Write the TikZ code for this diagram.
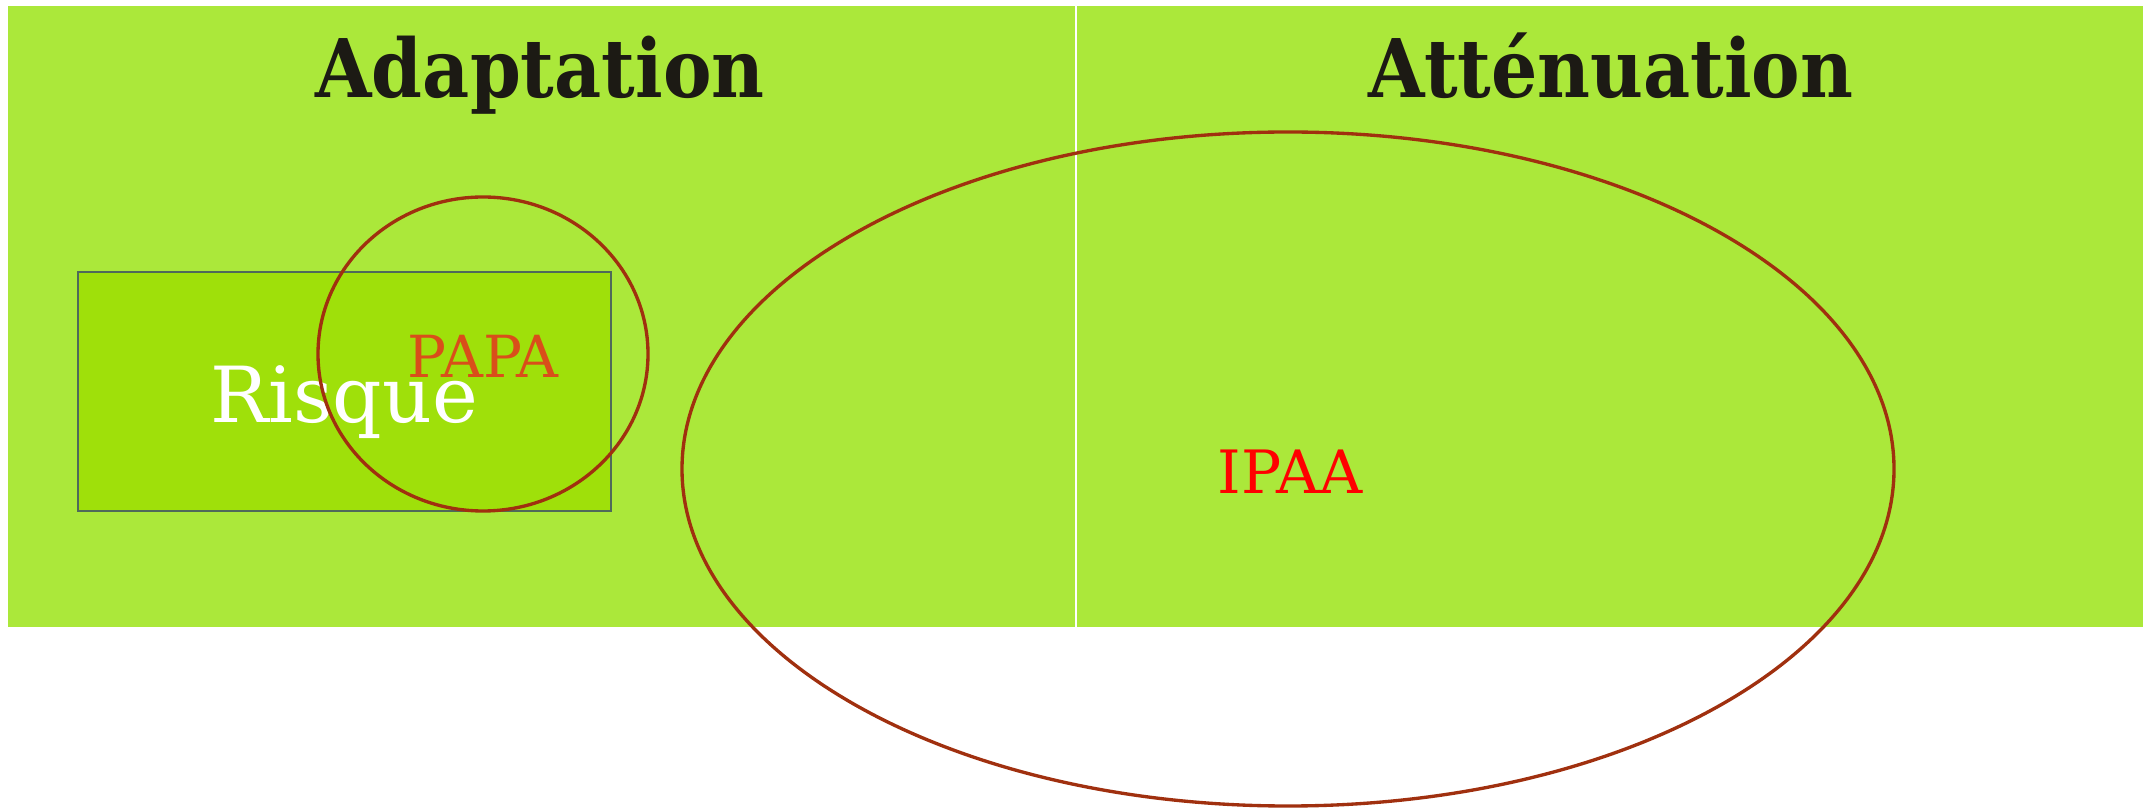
\documentclass[tikz,border=0pt]{standalone}
\usepackage{fontspec}
\setmainfont{DejaVu Serif}
\newfontfamily\headfont[FakeStretch=0.9]{DejaVu Serif}
\definecolor{panelgreen}{HTML}{ABE83A}
\definecolor{riskgreen}{HTML}{9FE00A}
\definecolor{riskedge}{HTML}{4F6A5A}
\definecolor{ringred}{HTML}{A0300F}
\definecolor{papaorange}{HTML}{D94E1A}
\definecolor{headblack}{HTML}{1C1A14}
\def\papacircle{(483,354) ellipse (165 and 157)}
\def\ipaaellipse{(1288,469) ellipse (606 and 337)}
\tikzset{
  heading/.style={anchor=base,text=headblack,font=\headfont\bfseries\fontsize{23}{23}\selectfont},
  ring/.style={draw=ringred,line width=0.95pt}
}

\begin{document}
\begin{tikzpicture}[x=0.01cm,y=-0.01cm]
      \fill[white] (0,0) rectangle (2143,807);
      \fill[panelgreen] (8,6) rectangle (1075,627);
      \fill[panelgreen] (1077,6) rectangle (2143,627);
      \node[heading] (adapt) at (540,98) {Adaptation};
      \node[heading] (atten) at (1611,98) {Atténuation};
      \draw[riskedge,fill=riskgreen,line width=0.75pt] (78,272) rectangle (611,511);
      \node[anchor=base,text=white,font=\fontsize{22}{22}\selectfont] (risque) at (344,423) {Risque};
      \node[anchor=base,text=papaorange,font=\fontsize{16.5}{16.5}\selectfont] (papa) at (483,378) {PAPA};
      \node[anchor=base,text=red,font=\fontsize{17}{17}\selectfont] (ipaa) at (1290,494) {IPAA};
      \draw[ring] \papacircle;
      \draw[ring] \ipaaellipse;
\end{tikzpicture}
\end{document}
